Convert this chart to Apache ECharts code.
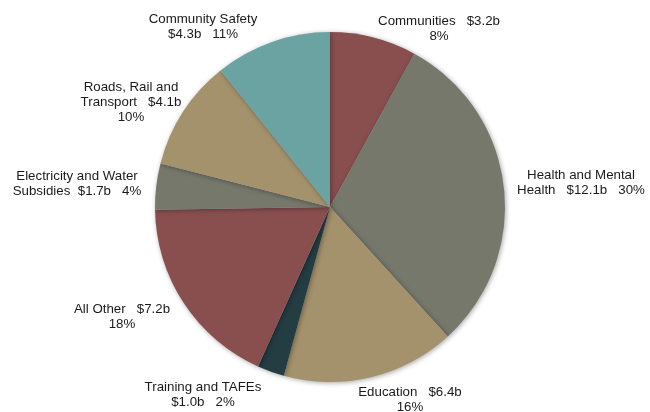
<!DOCTYPE html>
<html>
<head>
<meta charset="utf-8">
<script src="https://cdn.jsdelivr.net/npm/echarts@6/dist/echarts.min.js"></script>
<style>
  html, body { margin: 0; padding: 0; background: #ffffff; }
  #chart { width: 650px; height: 412px; }
</style>
</head>
<body>
<div id="chart"></div>
<script>
// Data
const categories = [
  'Communities', 'Health and Mental Health', 'Education', 'Training and TAFEs',
  'All Other', 'Electricity and Water Subsidies', 'Roads, Rail and Transport', 'Community Safety'
];
const values = [3.2, 12.1, 6.4, 1.0, 7.2, 1.7, 4.1, 4.3];
const percents = [8, 30, 16, 2, 18, 4, 10, 11];
const labelTexts = [
  'Communities   $3.2b\n8%',
  'Health and Mental\nHealth   $12.1b   30%',
  'Education   $6.4b\n16%',
  'Training and TAFEs\n$1.0b   2%',
  'All Other   $7.2b\n18%',
  'Electricity and Water\nSubsidies  $1.7b   4%',
  'Roads, Rail and\nTransport   $4.1b\n10%',
  'Community Safety\n$4.3b   11%'
];

// Styling / layout (not data)
const colors = ['#894F4F', '#76786C', '#A4926C', '#243D42', '#894F4F', '#76786C', '#A4926C', '#6BA3A3'];
const pieCenter = [330, 207];
const pieRadius = 175;
// label centre offsets from pie centre (px)
const labelOffsets = [
  [109, -178], [251, -24], [80, 193], [-127, 188],
  [-208, 110], [-253, -23], [-199, -105], [-127, -180]
];

const chart = echarts.init(document.getElementById('chart'), null, { renderer: 'canvas' });
chart.setOption({
  backgroundColor: '#ffffff',
  animation: false,
  series: [{
    type: 'pie',
    center: pieCenter,
    radius: pieRadius,
    startAngle: 90,
    clockwise: true,
    avoidLabelOverlap: false,
    data: categories.map((c, i) => ({
      name: c,
      value: values[i],
      itemStyle: { color: colors[i] },
      label: { formatter: labelTexts[i] }
    })),
    itemStyle: {
      borderWidth: 0,
      shadowBlur: 5,
      shadowColor: 'rgba(0,0,0,0.35)',
      shadowOffsetX: 1,
      shadowOffsetY: 1
    },
    label: {
      show: true,
      position: 'outside',
      color: '#1a1a1a',
      fontFamily: 'Liberation Sans, Arial, sans-serif',
      fontSize: 13.3,
      lineHeight: 15,
      align: 'center'
    },
    labelLine: { show: false },
    labelLayout: function (params) {
      const o = labelOffsets[params.dataIndex];
      return {
        x: pieCenter[0] + o[0],
        y: pieCenter[1] + o[1],
        align: 'center',
        verticalAlign: 'middle'
      };
    },
    emphasis: { disabled: true }
  }]
});
</script>
</body>
</html>
